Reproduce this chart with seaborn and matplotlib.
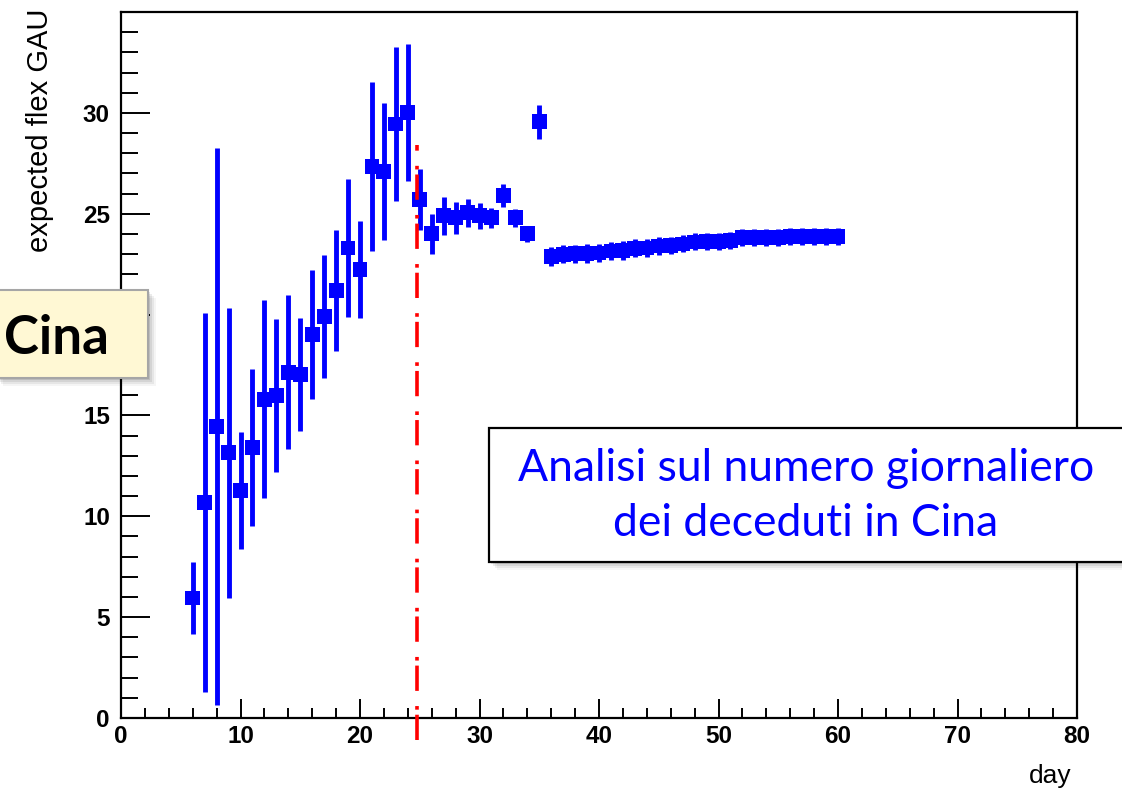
import numpy as np
import pandas as pd
import matplotlib
matplotlib.use("Agg")
import matplotlib.pyplot as plt
import seaborn as sns
from matplotlib.patches import Rectangle

# ---------------- data ----------------
days = list(range(6, 61))
values = [5.95, 10.67, 14.44, 13.15, 11.3, 13.4, 15.8, 16.0, 17.15, 17.05,
          19.0, 19.9, 21.2, 23.3, 22.25, 27.35, 27.1, 29.45, 30.0, 25.7,
          24.0, 24.9, 24.8, 25.05, 24.9, 24.8, 25.9, 24.8, 24.0, 29.55,
          22.88, 23.0, 23.02, 23.03, 23.05, 23.15, 23.18, 23.28, 23.3, 23.4,
          23.42, 23.5, 23.6, 23.62, 23.64, 23.68, 23.8, 23.82, 23.83, 23.84,
          23.85, 23.85, 23.86, 23.86, 23.87]
errors = [1.8, 9.4, 13.8, 7.2, 2.9, 3.9, 4.9, 3.8, 3.8, 2.8,
          3.2, 3.05, 3.0, 3.4, 2.4, 4.2, 3.4, 3.8, 3.4, 1.5,
          1.0, 0.95, 0.8, 0.7, 0.65, 0.5, 0.55, 0.45, 0.4, 0.85,
          0.45, 0.45, 0.45, 0.45, 0.45, 0.45, 0.45, 0.45, 0.45, 0.45,
          0.42, 0.42, 0.42, 0.42, 0.42, 0.42, 0.42, 0.42, 0.42, 0.42,
          0.42, 0.42, 0.42, 0.42, 0.42]
vline_day = 24.8
x_ticks = [0, 10, 20, 30, 40, 50, 60, 70, 80]
y_ticks = [0, 5, 10, 15, 20, 25, 30]
# the "20" label is hidden behind the "Cina" tag in the reference
y_ticklabels = ["0", "5", "10", "15", "", "25", "30"]
x_label = "day"
y_label = "expected flex GAU"
box_text = "Analisi sul numero giornaliero\ndei deceduti in Cina"
tag_text = "Cina"

df = pd.DataFrame({"day": days, "value": values, "err": errors})

# ---------------- figure ----------------
sns.set_theme(style="ticks")
plt.rcParams["font.family"] = ["Liberation Sans", "DejaVu Sans"]

W, H = 1122, 791
fig = plt.figure(figsize=(W / 100, H / 100), dpi=100)
fig.patch.set_facecolor("white")
ax = fig.add_axes([121 / W, 1 - 718 / H, (1077 - 121) / W, (718 - 12) / H])

blue = "#0000ff"
ax.errorbar(df["day"], df["value"], yerr=df["err"], xerr=0.5, fmt="none",
            ecolor=blue, elinewidth=3.5, capsize=0, zorder=2)
sns.scatterplot(data=df, x="day", y="value", marker="s", s=115, color=blue,
                edgecolor="none", linewidth=0, ax=ax, zorder=3, legend=False)

ax.plot([vline_day, vline_day], [-1.1, 28.4], color="#ff0000", lw=2.6,
        dashes=(7.0, 1.4, 1.0, 4.2), clip_on=False, zorder=4)

ax.set_xlim(0, 80)
ax.set_ylim(0, 35)
ax.set_xticks(x_ticks)
ax.set_yticks(y_ticks)
ax.set_yticklabels(y_ticklabels)
ax.set_xticks(np.arange(0, 81, 2), minor=True)
ax.set_yticks(np.arange(0, 35, 1), minor=True)
ax.tick_params(axis="x", which="major", direction="in", length=13.5,
               width=1.4, color="black", labelsize=17.5, labelcolor="black",
               pad=5)
ax.tick_params(axis="x", which="minor", direction="in", length=7,
               width=1.4, color="black")
ax.tick_params(axis="y", which="major", direction="in", length=21,
               width=1.4, color="black", labelsize=17.5, labelcolor="black",
               pad=8)
ax.tick_params(axis="y", which="minor", direction="in", length=12.5,
               width=1.4, color="black")
for lab in ax.get_xticklabels() + ax.get_yticklabels():
    lab.set_fontweight("bold")
for s in ax.spines.values():
    s.set_linewidth(1.6)
    s.set_color("black")
ax.set_xlabel("")
ax.set_ylabel("")

fig.text(1072 / W, 1 - 776 / H, x_label, ha="right", va="center", fontsize=19,
         color="black")
fig.text(40 / W, 1 - 9 / H, y_label, ha="center", va="top", rotation=90,
         fontsize=21, color="black")

# ---------------- overlay: Cina tag ----------------
def px_rect(x0, y0, x1, y1, **kw):
    return Rectangle((x0 / W, 1 - y1 / H), (x1 - x0) / W, (y1 - y0) / H,
                     transform=fig.transFigure, **kw)

for i, a in enumerate([0.10, 0.08, 0.06, 0.04]):
    d = 2 + 2 * i
    fig.add_artist(px_rect(-5 + d, 290 + d, 148 + d, 378 + d,
                           facecolor="black", edgecolor="none", alpha=a,
                           zorder=9))
fig.add_artist(px_rect(-5, 290, 148, 378, facecolor="#fff8d4",
                       edgecolor="#a6a6a6", lw=1.5, zorder=10))
fig.text(56 / W, 1 - 338 / H, tag_text, ha="center", va="center",
         fontsize=38, fontweight="bold", color="black",
         family=["Lato", "DejaVu Sans"], zorder=11)

# ---------------- overlay: description box ----------------
for i, a in enumerate([0.10, 0.08, 0.06, 0.04]):
    d = 2 + 2 * i
    fig.add_artist(px_rect(489 + d, 428 + d, 1130, 562 + d,
                           facecolor="black", edgecolor="none", alpha=a,
                           zorder=9))
fig.add_artist(px_rect(489, 428, 1130, 562, facecolor="white",
                       edgecolor="black", lw=1.6, zorder=10))
fig.text(806 / W, 1 - 496 / H, box_text, ha="center", va="center",
         fontsize=32, color=blue, linespacing=1.45,
         family=["Lato", "DejaVu Sans"], zorder=11)

fig.savefig("out.png", dpi=100, facecolor="white")
